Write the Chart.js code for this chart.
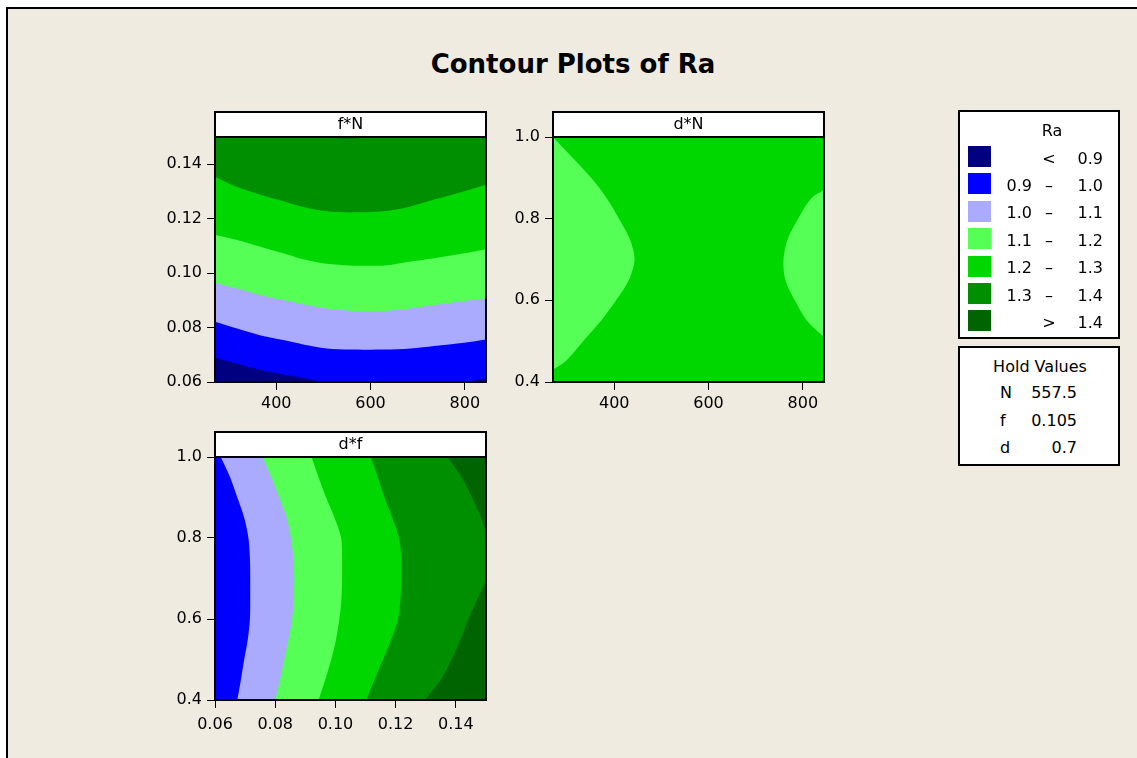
<!DOCTYPE html>
<html>
<head>
<meta charset="utf-8">
<script src="https://cdn.jsdelivr.net/npm/chart.js@4.4.1/dist/chart.umd.min.js"></script>
<style>
  html, body { margin:0; padding:0; background:#fff; overflow:hidden; width:1137px; height:758px; }
  #frame { position:absolute; left:6px; top:7px; width:1200px; height:800px; border-left:2px solid #000; border-top:2px solid #000; background:#efebe1; }
  canvas { position:absolute; }
  #title { position:absolute; left:373px; width:400px; top:49px; text-align:center; font:bold 26px "DejaVu Sans"; line-height:30px; color:#000; }
  .box { position:absolute; background:#fff; border:2px solid #000; box-sizing:border-box; font:16px "DejaVu Sans"; color:#000; }
  .box div { position:absolute; line-height:20px; white-space:nowrap; }
  .box .sw { line-height:0; }
</style>
</head>
<body>
<div id="frame"></div>
<div id="title">Contour Plots of Ra</div>
<canvas id="pFN" width="360" height="320" style="left:140px; top:105px; width:360px; height:320px"></canvas>
<canvas id="pDN" width="360" height="320" style="left:478px; top:105px; width:360px; height:320px"></canvas>
<canvas id="pDF" width="360" height="318" style="left:140px; top:425px; width:360px; height:318px"></canvas>
<div class="box" id="legend" style="left:958px; top:110px; width:162px; height:229px"></div>
<div class="box" id="hold" style="left:958px; top:346px; width:162px; height:120px"></div>
<script>
// Ra bands, lowest to highest
const bandColors = ['#000080', '#0000ff', '#aaaaff', '#55ff55', '#00d700', '#008f00', '#006400'];
const legendLow = ['', '0.9', '1.0', '1.1', '1.2', '1.3', ''];
const legendSign = ['<', '–', '–', '–', '–', '–', '>'];
const legendHigh = ['0.9', '1.0', '1.1', '1.2', '1.3', '1.4', '1.4'];
const holdNames = ['N', 'f', 'd'];
const holdValues = ['557.5', '0.105', '0.7'];

// axis ranges and ticks
const nRange = [270, 845];
const fRange = [0.06, 0.15];
const dRange = [0.4, 1.0];
const nTicks = [400, 600, 800];
const fTicks = [0.06, 0.08, 0.10, 0.12, 0.14];
const dTicks = [0.4, 0.6, 0.8, 1.0];

// f*N : contour lines f(N)
const fnN = [270, 315, 365, 415, 457, 507, 557, 628, 685, 735, 799, 845];
const fnRa09 = [0.0690, 0.0668, 0.0645, 0.0628, 0.0616, 0.0598, 0.0590, 0.0585, 0.0588, 0.0592, 0.0600, 0.0615];
const fnRa10 = [0.0821, 0.0797, 0.0772, 0.0754, 0.0738, 0.0723, 0.0719, 0.0719, 0.0723, 0.0732, 0.0744, 0.0756];
const fnRa11 = [0.0965, 0.0944, 0.0920, 0.0901, 0.0886, 0.0870, 0.0862, 0.0861, 0.0870, 0.0883, 0.0898, 0.0907];
const fnRa12 = [0.1141, 0.1123, 0.1098, 0.1073, 0.1051, 0.1034, 0.1028, 0.1028, 0.1043, 0.1055, 0.1073, 0.1088];
const fnRa13 = [0.1354, 0.1317, 0.1289, 0.1264, 0.1243, 0.1227, 0.1223, 0.1227, 0.1245, 0.1270, 0.1301, 0.1325];
const fnRa14 = [0.1580, 0.1560, 0.1535, 0.1515, 0.1503, 0.1498, 0.1494, 0.1505, 0.1510, 0.1525, 0.1550, 0.1570];

// d*N : the two 1.1-1.2 pockets, N(d)
const dnLeftD = [1.0, 0.95, 0.9, 0.85, 0.8, 0.75, 0.7, 0.65, 0.6, 0.55, 0.5, 0.45, 0.43];
const dnLeftN = [270, 311, 351, 384, 410, 433, 443, 431, 404, 372, 334, 296, 270];
const dnRightD = [0.87, 0.85, 0.8, 0.75, 0.7, 0.65, 0.6, 0.55, 0.51];
const dnRightN = [845, 818, 790, 768, 759, 763, 783, 809, 845];

// d*f : contour lines f(d)
const dfD = [1.0, 0.95, 0.9, 0.85, 0.8, 0.75, 0.7, 0.65, 0.6, 0.55, 0.5, 0.45, 0.4];
const dfRa10 = [0.0619, 0.0650, 0.0674, 0.0697, 0.0711, 0.0716, 0.0717, 0.0717, 0.0716, 0.0709, 0.0697, 0.0686, 0.0674];
const dfRa11 = [0.0758, 0.0787, 0.0813, 0.0838, 0.0852, 0.0860, 0.0863, 0.0861, 0.0856, 0.0844, 0.0830, 0.0816, 0.0800];
const dfRa12 = [0.0921, 0.0944, 0.0969, 0.0997, 0.1019, 0.1022, 0.1022, 0.1020, 0.1013, 0.1002, 0.0986, 0.0966, 0.0944];
const dfRa13 = [0.1117, 0.1141, 0.1163, 0.1189, 0.1211, 0.1219, 0.1219, 0.1216, 0.1208, 0.1186, 0.1158, 0.1130, 0.1102];
const dfRa14 = [0.1372, 0.1419, 0.1454, 0.1483, 0.1504, 0.1511, 0.1501, 0.1472, 0.1442, 0.1416, 0.1386, 0.1350, 0.1297];

Chart.defaults.font.family = 'DejaVu Sans';

// base colour of the plot area, white header strip and black frames
const panelPlugin = {
  id: 'panel',
  beforeDraw(chart, args, opts) {
    const {ctx, chartArea: a} = chart;
    ctx.save();
    ctx.fillStyle = opts.base;
    ctx.fillRect(a.left, a.top, a.right - a.left, a.bottom - a.top);
    ctx.fillStyle = '#fff';
    ctx.fillRect(a.left, a.top - 25, a.right - a.left, 25);
    ctx.restore();
  },
  afterDraw(chart) {
    const {ctx, chartArea: a} = chart;
    ctx.save();
    ctx.strokeStyle = '#000';
    ctx.lineWidth = 2;
    ctx.strokeRect(a.left, a.top - 25, a.right - a.left, 25);
    ctx.strokeRect(a.left, a.top, a.right - a.left, a.bottom - a.top);
    ctx.restore();
  }
};

function curveX(xs, ys, color, fillTo) {
  return { data: xs.map((x, i) => ({x: x, y: ys[i]})), backgroundColor: color, fill: {value: fillTo}, borderWidth: 0, pointRadius: 0 };
}
function curveY(ds, xs, color, fillTo) {
  return { data: ds.map((d, i) => ({x: xs[i], y: d})), backgroundColor: color, fill: {value: fillTo}, borderWidth: 0, pointRadius: 0 };
}

function axis(range, ticks, digits, which, pad) {
  return {
    type: 'linear',
    min: range[0],
    max: range[1],
    afterBuildTicks: s => { s.ticks = ticks.map(v => ({value: v})); },
    afterFit: s => { if (which === 'x') s.height = 43; else s.width = 75; },
    grid: { drawOnChartArea: false, color: '#000', tickLength: 8, tickWidth: 1 },
    border: { display: false },
    ticks: {
      color: '#000', padding: pad, autoSkip: false, maxRotation: 0,
      font: { family: 'DejaVu Sans', size: 16 },
      callback: v => Number(v).toFixed(digits)
    }
  };
}

function makePanel(id, cfg) {
  return new Chart(document.getElementById(id), {
    type: 'line',
    data: { datasets: cfg.datasets },
    options: {
      responsive: false,
      animation: false,
      devicePixelRatio: 1,
      indexAxis: cfg.indexAxis,
      layout: { padding: { top: 7, right: 14, bottom: 0, left: 0 } },
      elements: { point: { radius: 0 }, line: { borderWidth: 0, tension: 0.3 } },
      plugins: {
        legend: { display: false },
        tooltip: { enabled: false },
        title: {
          display: true, text: cfg.header, fullSize: false, color: '#000',
          font: { family: 'DejaVu Sans', size: 16, weight: 'normal', lineHeight: 1.25 },
          padding: { top: 3, bottom: 2 }
        },
        panel: { base: cfg.base }
      },
      scales: {
        x: axis(cfg.xRange, cfg.xTicks, cfg.xDigits, 'x', cfg.xPad),
        y: axis(cfg.yRange, cfg.yTicks, cfg.yDigits, 'y', 5)
      }
    },
    plugins: [panelPlugin]
  });
}

// dataset 0 is painted last, so lower bands sit on top
makePanel('pFN', {
  header: 'f*N', indexAxis: 'x', base: bandColors[5],
  xRange: nRange, xTicks: nTicks, xDigits: 0, xPad: 4,
  yRange: fRange, yTicks: fTicks, yDigits: 2,
  datasets: [
    curveX(fnN, fnRa09, bandColors[0], fRange[0]),
    curveX(fnN, fnRa10, bandColors[1], fRange[0]),
    curveX(fnN, fnRa11, bandColors[2], fRange[0]),
    curveX(fnN, fnRa12, bandColors[3], fRange[0]),
    curveX(fnN, fnRa13, bandColors[4], fRange[0]),
    curveX(fnN, fnRa14, bandColors[6], fRange[1]),
  ]
});

makePanel('pDN', {
  header: 'd*N', indexAxis: 'y', base: bandColors[4],
  xRange: nRange, xTicks: nTicks, xDigits: 0, xPad: 4,
  yRange: dRange, yTicks: dTicks, yDigits: 1,
  datasets: [
    curveY(dnLeftD, dnLeftN, bandColors[3], nRange[0]),
    curveY(dnRightD, dnRightN, bandColors[3], nRange[1]),
  ]
});

makePanel('pDF', {
  header: 'd*f', indexAxis: 'y', base: bandColors[6],
  xRange: fRange, xTicks: fTicks, xDigits: 2, xPad: 7,
  yRange: dRange, yTicks: dTicks, yDigits: 1,
  datasets: [
    curveY(dfD, dfRa10, bandColors[1], fRange[0]),
    curveY(dfD, dfRa11, bandColors[2], fRange[0]),
    curveY(dfD, dfRa12, bandColors[3], fRange[0]),
    curveY(dfD, dfRa13, bandColors[4], fRange[0]),
    curveY(dfD, dfRa14, bandColors[5], fRange[0]),
  ]
});

// legend boxes
function addText(box, text, x, baseline, align) {
  const el = document.createElement('div');
  el.textContent = text;
  el.style.top = (baseline - 15.5) + 'px';
  if (align === 'left') {
    el.style.left = x + 'px';
  } else {
    el.style.width = '200px';
    el.style.textAlign = align;
    el.style.left = (align === 'right' ? x - 200 : x - 100) + 'px';
  }
  box.appendChild(el);
}

const legend = document.getElementById('legend');
addText(legend, 'Ra', 92, 24, 'center');
bandColors.forEach((c, i) => {
  const sw = document.createElement('div');
  sw.className = 'sw';
  sw.style.cssText = 'left:8px; width:23px; height:21px; background:' + c + '; top:' + (34 + 27.4 * i) + 'px';
  legend.appendChild(sw);
  addText(legend, legendLow[i], 72, 52 + 27.4 * i, 'right');
  addText(legend, legendSign[i], 89, 52 + 27.4 * i, 'center');
  addText(legend, legendHigh[i], 143, 52 + 27.4 * i, 'right');
});

const hold = document.getElementById('hold');
addText(hold, 'Hold Values', 80, 24, 'center');
holdNames.forEach((n, i) => {
  addText(hold, n, 40, 50.5 + 27.6 * i, 'left');
  addText(hold, holdValues[i], 117, 50.5 + 27.6 * i, 'right');
});
</script>
</body>
</html>
